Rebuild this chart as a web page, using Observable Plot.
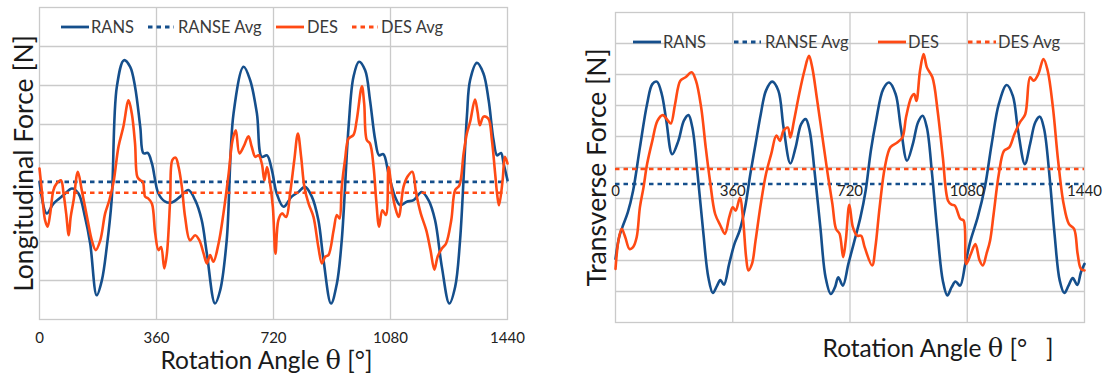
<!DOCTYPE html>
<html><head><meta charset="utf-8">
<script src="https://cdn.jsdelivr.net/npm/d3@7"></script>
<script src="https://cdn.jsdelivr.net/npm/@observablehq/plot@0.6"></script>
<style>
html,body{margin:0;padding:0;background:#fff;}
#wrap{position:relative;width:1106px;height:383px;overflow:hidden;font-family:Lato,"Open Sans",sans-serif;background:#fff;}
.panel{position:absolute;top:0;}
.panel svg{overflow:visible;}
.sw{position:absolute;height:20px;}
.lt{position:absolute;height:20px;line-height:20px;font-size:16.5px;color:#3a3a3a;white-space:nowrap;}
</style></head><body><div id="wrap"></div>
<script>
// ---------- data ----------
const xTicks = [0, 360, 720, 1080, 1440];
const xGrid = [360, 720, 1080];
const leftGridY = [1, 2, 3, 4, 5, 6, 7];
const rightGridY = [1, 2, 3, 4, 5, 6, 7, 8, 9];
const seriesNames = ["RANS", "RANSE Avg", "DES", "DES Avg"];

// Longitudinal force (left)
const lonRansTheta = [0,22,43,74,100,120,140,156,176,192,207,222,238,260,279,294,310,320,333,346,366,387,407,433,458,479,499,515,540,556,576,597,628,648,669,684,700,715,730,751,776,797,817,838,858,874,897,915,930,951,966,983,1002,1017,1033,1045,1058,1074,1094,1110,1130,1151,1176,1197,1217,1238,1261,1279,1294,1315,1325,1346,1366,1382,1397,1408,1420,1428,1440];
const lonRansValue = [3.53,2.72,2.97,3.19,3.36,3.23,2.63,1.95,0.62,1.01,1.86,3.06,5.97,6.65,6.48,5.97,4.94,4.26,4.27,4.0,3.23,3.02,3.0,3.15,3.32,3.06,2.55,1.69,0.41,0.75,2.03,5.28,6.48,6.14,5.28,4.17,4.21,3.83,3.23,2.89,3.15,3.27,3.40,3.15,2.55,1.52,0.41,0.92,2.03,4.94,6.22,6.61,6.39,5.62,4.6,4.21,4.24,3.74,3.15,2.93,3.02,3.06,3.27,3.06,2.55,1.35,0.41,0.84,2.03,5.2,6.14,6.58,6.31,5.62,4.6,4.21,4.27,4.0,3.57];
const lonDesTheta = [0,7,17,25,33,43,53,66,74,82,90,96,105,118,130,148,161,173,187,202,215,228,243,258,274,284,294,301,310,318,325,335,346,356,366,374,384,392,402,409,419,428,438,448,463,479,492,505,515,525,535,551,566,582,594,604,615,628,643,653,664,674,684,692,700,708,718,726,735,746,759,771,784,795,805,815,828,843,858,869,879,889,905,915,923,930,940,951,966,976,992,999,1007,1017,1028,1036,1045,1055,1066,1074,1084,1094,1105,1120,1132,1147,1159,1173,1190,1203,1215,1225,1238,1251,1267,1279,1292,1305,1315,1325,1340,1348,1355,1366,1381,1392,1402,1409,1414,1425,1432,1440];
const lonDesValue = [3.87,3.32,2.55,2.38,2.72,3.32,3.49,3.57,3.23,2.72,2.16,2.63,3.06,3.79,3.32,2.55,2.03,1.78,2.03,2.72,3.06,3.53,4.43,4.94,5.62,5.28,4.51,3.66,3.57,3.53,3.15,3.10,2.97,2.21,1.78,1.86,1.31,1.69,3.06,4.09,4.15,3.91,3.40,2.63,2.03,2.16,2.03,1.69,1.44,1.65,1.48,1.95,2.72,3.74,4.6,4.85,4.26,4.43,4.7,4.43,4.17,4.21,4.0,3.57,3.91,3.57,2.89,1.69,2.55,2.72,2.63,3.23,4.09,4.77,4.17,3.40,2.97,2.63,1.86,1.44,1.61,1.65,2.29,2.68,2.59,3.40,4.09,4.64,4.73,5.11,5.98,5.54,4.6,4.51,3.91,3.06,2.38,2.80,2.68,3.91,3.32,2.89,2.63,3.40,3.66,3.79,3.23,2.72,2.29,1.78,1.28,1.61,1.82,1.95,2.55,3.32,3.44,4.26,4.77,5.07,5.64,5.32,4.98,5.2,5.15,4.6,3.74,3.15,2.93,3.57,4.17,4.0];
const lonRansAvg = 3.53;
const lonDesAvg = 3.25;

// Transverse force (right)
const traRansTheta = [0,11,21,38,54,75,97,113,127,142,156,174,193,210,224,236,252,269,285,299,312,322,333,349,365,381,398,414,430,446,462,481,500,516,537,553,570,584,596,612,629,645,661,674,684,698,715,731,752,768,784,800,822,840,860,876,895,913,929,943,956,972,988,1005,1019,1032,1044,1058,1074,1090,1112,1134,1155,1177,1201,1220,1236,1257,1273,1289,1303,1316,1332,1348,1364,1378,1391,1404,1418,1429,1440];
const traRansValue = [2.05,2.75,3.07,3.56,4.25,5.65,7.05,7.69,7.77,7.37,6.51,5.43,5.86,6.51,6.69,6.29,4.79,2.96,1.46,0.95,1.19,1.37,1.22,1.89,2.53,2.96,3.72,4.79,5.76,6.72,7.48,7.77,7.48,6.29,5.13,5.65,6.4,6.56,6.19,4.79,3.07,1.46,0.92,1.14,1.46,1.19,1.89,2.53,3.39,4.25,5.54,6.51,7.53,7.74,7.37,6.29,5.22,5.76,6.46,6.67,6.29,4.79,2.96,1.35,0.87,1.14,1.32,1.19,1.89,2.64,3.39,4.36,5.76,7.05,7.66,7.31,6.19,5.11,5.76,6.46,6.64,6.24,4.79,2.86,1.35,0.95,1.19,1.43,1.21,1.62,1.89];
const traDesTheta = [0,9,19,30,43,54,65,75,86,97,113,129,145,161,170,183,199,215,234,247,263,277,290,306,322,336,349,360,369,382,392,401,408,419,430,446,462,478,494,505,516,529,537,548,564,580,594,604,618,634,650,666,677,688,699,707,718,729,742,754,765,788,798,811,827,844,865,881,892,908,917,924,935,946,956,973,989,1005,1021,1032,1042,1059,1069,1077,1091,1105,1118,1128,1139,1150,1161,1177,1193,1209,1225,1242,1258,1273,1284,1298,1314,1327,1343,1359,1376,1392,1408,1419,1429,1440];
const traDesValue = [1.73,2.64,3.02,2.75,2.37,2.43,2.75,3.72,4.36,5.11,5.86,6.51,6.69,6.51,6.42,7.05,7.80,7.91,8.07,7.80,6.94,5.65,4.58,3.50,3.13,2.86,3.39,3.72,3.61,4.02,3.29,2.11,1.68,1.89,2.64,3.82,4.79,5.43,6.03,5.86,6.19,6.29,5.97,6.51,7.37,8.12,8.60,8.23,7.26,6.08,4.90,3.82,3.02,2.86,2.11,2.64,3.80,3.07,2.80,2.80,2.43,1.84,2.43,3.72,5.01,5.65,5.81,5.97,6.62,7.26,7.37,7.15,8.12,8.66,8.23,7.91,6.83,5.33,3.93,3.80,3.77,3.34,3.29,1.89,2.21,2.53,2.00,1.84,2.21,2.64,3.50,4.79,5.54,5.65,6.08,6.46,6.72,7.91,7.80,8.01,8.50,8.12,6.94,5.22,3.82,3.18,3.02,2.21,1.73,1.68];
const traRansAvg = 4.47;
const traDesAvg = 4.95;

// ---------- style ----------
const BLUE = "#154f8c";
const ORANGE = "#ff4a14";
const GRID = "#cacaca";
const FONT = "Lato, 'Open Sans', sans-serif";
const DASH = "4.5,4";

function gridMarks(gridY) {
  return [
    Plot.ruleY(gridY, {stroke: GRID, strokeWidth: 1.3}),
    Plot.ruleX(xGrid, {stroke: GRID, strokeWidth: 1.3}),
    Plot.frame({stroke: GRID, strokeWidth: 1.3})
  ];
}
function seriesMarks(rT, rV, rAvg, dT, dV, dAvg) {
  return [
    Plot.line(rV, {x: rT, y: rV, stroke: BLUE, strokeWidth: 2.6, curve: "catmull-rom"}),
    Plot.ruleY([rAvg], {stroke: BLUE, strokeWidth: 2.6, strokeDasharray: DASH}),
    Plot.line(dV, {x: dT, y: dV, stroke: ORANGE, strokeWidth: 2.6, curve: "catmull-rom"}),
    Plot.ruleY([dAvg], {stroke: ORANGE, strokeWidth: 2.6, strokeDasharray: DASH})
  ];
}

const left = Plot.plot({
  width: 553, height: 383,
  marginLeft: 39, marginRight: 46, marginTop: 7, marginBottom: 64,
  x: {domain: [0, 1440], axis: null},
  y: {domain: [0, 8], axis: null},
  style: {fontFamily: FONT, background: "transparent", overflow: "visible"},
  marks: [
    ...gridMarks(leftGridY),
    ...seriesMarks(lonRansTheta, lonRansValue, lonRansAvg, lonDesTheta, lonDesValue, lonDesAvg),
    Plot.text(xTicks, {x: d => d, text: d => String(d), frameAnchor: "bottom", dy: 23, fontSize: 15, fill: "#222"}),
    Plot.text(["Rotation Angle θ [°]"], {frameAnchor: "bottom", textAnchor: "middle", dy: 49, dx: -7, fontSize: 24.5, fill: "#1a1a1a"}),
    Plot.text(["Longitudinal Force [N]"], {frameAnchor: "left", textAnchor: "middle", rotate: -90, dx: -15, fontSize: 26.5, fill: "#1a1a1a"})
  ]
});

const right = Plot.plot({
  width: 553, height: 383,
  marginLeft: 62, marginRight: 22, marginTop: 12, marginBottom: 61,
  x: {domain: [0, 1440], axis: null},
  y: {domain: [0, 10], axis: null},
  style: {fontFamily: FONT, background: "transparent", overflow: "visible"},
  marks: [
    ...gridMarks(rightGridY),
    ...seriesMarks(traRansTheta, traRansValue, traRansAvg, traDesTheta, traDesValue, traDesAvg),
    Plot.text(xTicks, {x: d => d, y: () => traRansAvg, text: d => String(d), dy: 7, fontSize: 15, fill: "#222"}),
    Plot.text(["Rotation Angle θ [°\u00a0\u00a0\u00a0]"], {frameAnchor: "bottom", textAnchor: "middle", dy: 34, dx: 88, fontSize: 24.5, fill: "#1a1a1a"}),
    Plot.text(["Transverse Force [N]"], {frameAnchor: "left", textAnchor: "middle", rotate: -90, dx: -18, fontSize: 26.5, fill: "#1a1a1a"})
  ]
});

function fixTheta(svg) {
  svg.querySelectorAll("text").forEach(t => {
    const s = t.textContent;
    if (!s.includes("θ")) return;
    const [a, b] = s.split("θ");
    while (t.firstChild) t.removeChild(t.firstChild);
    const ns = "http://www.w3.org/2000/svg";
    const t1 = document.createElementNS(ns, "tspan"); t1.textContent = a;
    const t2 = document.createElementNS(ns, "tspan"); t2.textContent = "θ";
    t2.setAttribute("font-family", "'DejaVu Serif', serif"); t2.setAttribute("font-size", "1.05em");
    const t3 = document.createElementNS(ns, "tspan"); t3.textContent = b;
    t.append(t1, t2, t3);
  });
}
fixTheta(left); fixTheta(right);

const wrap = document.getElementById("wrap");
const lp = document.createElement("div"); lp.className = "panel"; lp.style.left = "0px"; lp.appendChild(left);
const rp = document.createElement("div"); rp.className = "panel"; rp.style.left = "553px"; rp.appendChild(right);
wrap.append(lp, rp);

// legends (HTML overlays)
const legendColors = [BLUE, BLUE, ORANGE, ORANGE];
const legendDashed = [false, true, false, true];
function legend(cy, swatchX, swatchW, textX) {
  seriesNames.forEach((name, i) => {
    const sw = document.createElementNS("http://www.w3.org/2000/svg", "svg");
    sw.setAttribute("class", "sw");
    sw.setAttribute("width", swatchW[i]); sw.setAttribute("height", 20);
    sw.style.left = swatchX[i] + "px"; sw.style.top = (cy - 10) + "px";
    const ln = document.createElementNS("http://www.w3.org/2000/svg", "line");
    ln.setAttribute("x1", 0); ln.setAttribute("x2", swatchW[i]);
    ln.setAttribute("y1", 10); ln.setAttribute("y2", 10);
    ln.setAttribute("stroke", legendColors[i]); ln.setAttribute("stroke-width", 2.8);
    if (legendDashed[i]) ln.setAttribute("stroke-dasharray", DASH);
    sw.appendChild(ln);
    const tx = document.createElement("div");
    tx.className = "lt"; tx.textContent = name;
    tx.style.left = textX[i] + "px"; tx.style.top = (cy - 10) + "px";
    wrap.append(sw, tx);
  });
}
legend(27, [61, 148, 276, 352], [28, 26, 28, 26], [91, 178, 307, 381]);
legend(42, [633, 734, 878, 968], [28, 27, 28, 28], [663, 765, 908, 998]);
</script>
</body></html>
